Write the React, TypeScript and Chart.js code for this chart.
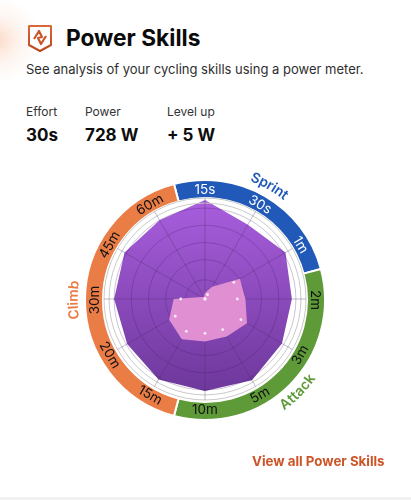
import React, { useEffect, useRef } from "react";
import { Chart, registerables } from "chart.js";

Chart.register(...registerables);

const categories = ["15s", "30s", "1m", "2m", "3m", "5m", "10m", "15m", "20m", "30m", "45m", "60m"];
const potential = [98, 85, 92, 86, 88, 93, 91, 92, 89, 90, 92, 90];
const currentArea = [6, 14, 40, 40, 48, 43, 42, 46, 41, 31, 4, 2.3];
const currentDots = [0, 5, 33, 32, 41, 35, 34, 37, 34, 24, 0, 0];
const gridTicks = [0, 19, 39, 56, 73, 90, 95, 100];
const groups = ["Sprint", "Attack", "Climb"];
const groupSizes = [3, 4, 5];
const groupColors = ["#2159B8", "#5E9B38", "#EA7C46"];
const stats = [
  { label: "Effort", value: "30s", x: 26 },
  { label: "Power", value: "728 W", x: 85 },
  { label: "Level up", value: "+ 5 W", x: 167 },
];

const FONT = "Inter, 'Noto Sans', sans-serif";
const groupLabelAngles = [29.5, 135, 270];

let late = false;
const lateDatasets = {
  id: "lateDatasets",
  beforeDatasetDraw(_c: any, args: any) {
    if (!late && args.index > 0) return false;
  },
  afterDraw(chart: any) {
    late = true;
    [1, 2].forEach((index) => {
      const meta = chart.getDatasetMeta(index);
      chart.notifyPlugins("beforeDatasetDraw", { meta, index, cancelable: true });
      meta.controller.draw();
    });
    late = false;
  },
};

const ringLabels = {
  id: "ringLabels",
  afterDraw(chart: any) {
    const { ctx } = chart;
    const arc = chart.getDatasetMeta(0).data[0];
    const cx = arc.x;
    const cy = arc.y;
    ctx.save();
    ctx.textAlign = "center";
    ctx.textBaseline = "middle";
    ctx.font = `400 13.5px ${FONT}`;
    categories.forEach((name, i) => {
      const deg = i * 30;
      const rad = (deg * Math.PI) / 180;
      const r = 110;
      const lower = deg > 90 && deg < 270;
      ctx.save();
      ctx.translate(cx + r * Math.sin(rad), cy - r * Math.cos(rad));
      ctx.rotate(lower ? rad - Math.PI : rad);
      ctx.fillStyle = i < 3 ? "#FFFFFF" : "#111111";
      ctx.fillText(name, 0, 0);
      ctx.restore();
    });
    ctx.font = `600 14px ${FONT}`;
    groups.forEach((g, gi) => {
      const r = 131.5;
      const deg = groupLabelAngles[gi];
      const lower = deg > 90 && deg < 270;
      const total = ctx.measureText(g).width;
      const dir = lower ? -1 : 1;
      let along = -total / 2;
      ctx.fillStyle = groupColors[gi];
      for (const ch of g) {
        const w = ctx.measureText(ch).width;
        const a = (deg * Math.PI) / 180 + (dir * (along + w / 2)) / r;
        ctx.save();
        ctx.translate(cx + r * Math.sin(a), cy - r * Math.cos(a));
        ctx.rotate(lower ? a - Math.PI : a);
        ctx.fillText(ch, 0, 0);
        ctx.restore();
        along += w;
      }
    });
    ctx.restore();
  },
};

export default function App() {
  const ringRef = useRef<HTMLCanvasElement>(null);
  const radarRef = useRef<HTMLCanvasElement>(null);

  useEffect(() => {
    const ring = new Chart(ringRef.current!, {
      type: "doughnut",
      data: {
        labels: groups,
        datasets: [
          {
            data: groupSizes,
            backgroundColor: groupColors,
            borderColor: "#FFFFFF",
            borderWidth: 2,
          },
        ],
      },
      options: {
        responsive: false,
        animation: false,
        rotation: -15,
        cutout: 102,
        layout: { padding: { left: 84, right: 85, top: 179, bottom: 79 } },
        plugins: { legend: { display: false }, tooltip: { enabled: false } },
      },
      plugins: [ringLabels],
    });

    const radar = new Chart(radarRef.current!, {
      type: "radar",
      data: {
        labels: categories,
        datasets: [
          {
            data: potential,
            backgroundColor: (c: any) => {
              const a = c.chart.chartArea;
              if (!a) return "#8A48BE";
              const g = c.chart.ctx.createLinearGradient(0, a.top, 0, a.bottom);
              g.addColorStop(0, "#A95EDE");
              g.addColorStop(1, "#6B3698");
              return g;
            },
            borderWidth: 0,
            pointRadius: 0,
            fill: true,
          },
          {
            data: currentArea,
            backgroundColor: "#DF8FD2",
            borderWidth: 0,
            pointRadius: 0,
            fill: true,
          },
          {
            data: currentDots,
            backgroundColor: "rgba(0,0,0,0)",
            borderWidth: 0,
            showLine: false,
            fill: false,
            pointRadius: 1.4,
            pointBackgroundColor: "#F8EDF8",
            pointBorderWidth: 0,
          },
        ],
      },
      options: {
        responsive: false,
        animation: false,
        layout: { padding: { left: 104, right: 104, top: 198, bottom: 99 } },
        plugins: { legend: { display: false }, tooltip: { enabled: false } },
        scales: {
          r: {
            min: 0,
            max: 100,
            afterBuildTicks: (s: any) => {
              s.ticks = gridTicks.map((value) => ({ value }));
            },
            ticks: { display: false },
            pointLabels: { display: false },
            angleLines: { color: "rgba(70,45,95,0.32)", lineWidth: 1 },
            grid: {
              z: 1,
              circular: true,
              lineWidth: 1,
              color: (c: any) =>
                c.tick && c.tick.value >= 95 ? "#C9C9C9" : "rgba(60,25,95,0.26)",
            },
          } as any,
        },
      },
      plugins: [lateDatasets],
    });

    return () => {
      ring.destroy();
      radar.destroy();
    };
  }, []);

  const canvasStyle: React.CSSProperties = { position: "absolute", left: 0, top: 0 };
  const text = (
    s: string,
    x: number,
    cy: number,
    size: number,
    weight: number,
    color: string,
    extra: React.CSSProperties = {}
  ) => (
    <div
      style={{
        position: "absolute",
        left: x,
        top: cy - 15,
        height: 30,
        lineHeight: "30px",
        fontSize: size,
        fontWeight: weight,
        color,
        whiteSpace: "nowrap",
        ...extra,
      }}
    >
      {s}
    </div>
  );

  return (
    <div
      style={{
        position: "absolute",
        left: 0,
        top: 0,
        width: 411,
        height: 500,
        overflow: "hidden",
        fontFamily: FONT,
        background:
          "radial-gradient(circle at -2px 40px, rgba(250,205,180,0.7) 0, rgba(250,215,195,0.3) 20px, rgba(255,255,255,0) 42px), #FFFFFF",
      }}
    >
      <svg style={{ position: "absolute", left: 27, top: 24 }} width="26" height="29" viewBox="0 0 26 29">
        <defs>
          <linearGradient id="ic" x1="0" y1="0" x2="0" y2="1">
            <stop offset="0" stopColor="#D9693A" />
            <stop offset="1" stopColor="#B8481F" />
          </linearGradient>
        </defs>
        <path d="M2 2 H24 V21 L13 27 L2 21 Z" fill="#FFFFFF" stroke="url(#ic)" strokeWidth="2" strokeLinejoin="round" />
        <path d="M7 15 L12 7 L15 13 L11 14 L14 20 L19 12" fill="none" stroke="#C9552A" strokeWidth="2.2" strokeLinejoin="round" />
      </svg>
      {text("Power Skills", 66, 38, 22.7, 700, "#0B0B0B")}
      {text("See analysis of your cycling skills using a power meter.", 26, 69, 13, 400, "#2E2E2E")}
      {stats.map((s) => (
        <React.Fragment key={s.label}>
          {text(s.label, s.x, 112, 12, 400, "#333333")}
          {text(s.value, s.x, 135, 17, 700, "#0D0D0D")}
        </React.Fragment>
      ))}
      <canvas ref={ringRef} width={411} height={500} style={canvasStyle} />
      <canvas ref={radarRef} width={411} height={500} style={canvasStyle} />
      {text("View all Power Skills", 252, 461, 13.3, 700, "#CC5427")}
      <div style={{ position: "absolute", left: 0, top: 497, width: 411, height: 3, background: "#F2F2F2" }} />
    </div>
  );
}
